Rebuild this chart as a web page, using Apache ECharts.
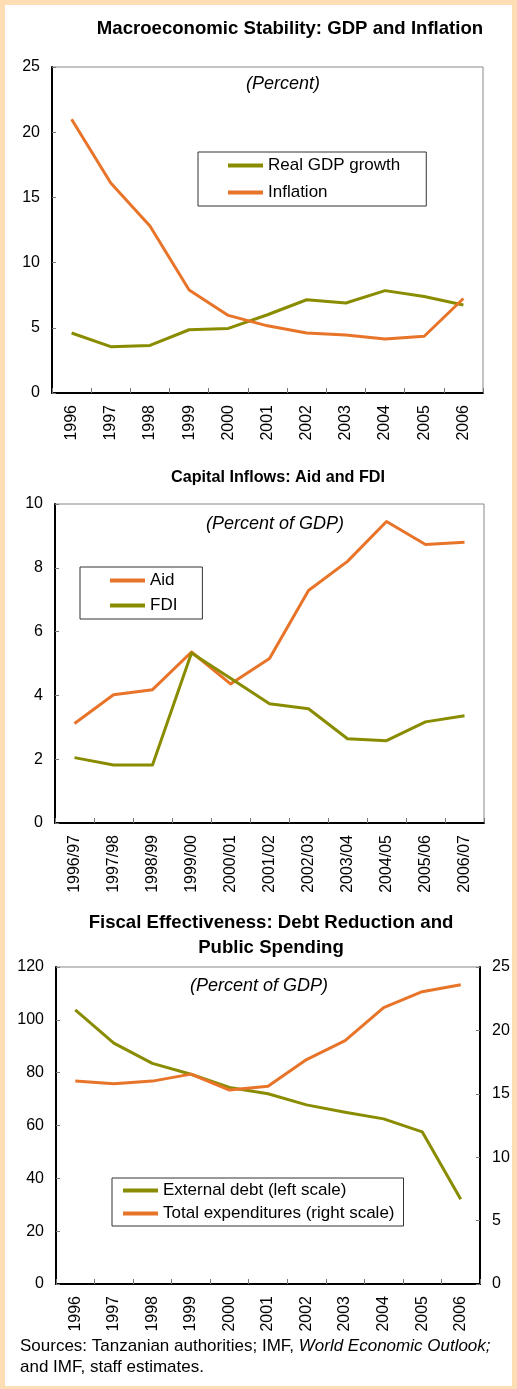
<!DOCTYPE html>
<html>
<head>
<meta charset="utf-8">
<script src="https://cdn.jsdelivr.net/npm/echarts@6/dist/echarts.min.js"></script>
<style>
html,body{margin:0;padding:0;background:#FDDEB4;}
#c{width:517px;height:1389px;}
</style>
</head>
<body>
<div id="c"></div>
<script>
// ---- Data ----
const years = ['1996','1997','1998','1999','2000','2001','2002','2003','2004','2005','2006'];
const gdpGrowth = [4.6, 3.55, 3.65, 4.85, 4.95, 6.0, 7.15, 6.9, 7.85, 7.4, 6.75];
const inflation = [21.0, 16.1, 12.8, 7.9, 5.95, 5.15, 4.6, 4.45, 4.15, 4.35, 7.25];

const fiscalYears = ['1996/97','1997/98','1998/99','1999/00','2000/01','2001/02','2002/03','2003/04','2004/05','2005/06','2006/07'];
const aid = [3.12, 4.02, 4.18, 5.36, 4.36, 5.16, 7.29, 8.2, 9.45, 8.73, 8.8];
const fdi = [2.05, 1.82, 1.82, 5.33, 4.54, 3.74, 3.58, 2.64, 2.58, 3.17, 3.36];

const externalDebt = [103.8, 91.2, 83.5, 79.4, 74.4, 72.0, 67.8, 65.0, 62.5, 57.6, 32.1];
const totalExpenditures = [16.0, 15.8, 16.0, 16.55, 15.3, 15.6, 17.7, 19.2, 21.8, 23.05, 23.6];

const ticks1 = {min: 0, max: 25, interval: 5};
const ticks2 = {min: 0, max: 10, interval: 2};
const ticks3L = {min: 0, max: 120, interval: 20};
const ticks3R = {min: 0, max: 25, interval: 5};

// ---- Styles ----
const GREEN = '#8A8C00';
const ORANGE = '#E8742A';
const FONT = '"Liberation Sans", Arial, sans-serif';

function xAxis(grid, data) {
  return {
    type: 'category', gridIndex: grid, data: data, boundaryGap: true,
    axisLine: {show: true, lineStyle: {color: '#000', width: 2}},
    axisTick: {show: true, inside: true, length: 5, interval: 0, lineStyle: {color: '#777'}},
    axisLabel: {rotate: 90, interval: 0, margin: 12, fontSize: 16, color: '#000', fontFamily: FONT},
    splitLine: {show: false}
  };
}
function yAxis(grid, t, pos) {
  return {
    type: 'value', gridIndex: grid, min: t.min, max: t.max, interval: t.interval, position: pos || 'left',
    axisLine: {show: true, lineStyle: {color: '#000', width: 2}},
    axisTick: {show: true, inside: true, length: 4, lineStyle: {color: '#777'}},
    axisLabel: {margin: 12, fontSize: 16, color: '#000', fontFamily: FONT},
    splitLine: {show: false}
  };
}
function line(name, data, color, xi, yi, z) {
  return {
    type: 'line', name: name, data: data, xAxisIndex: xi, yAxisIndex: yi,
    symbol: 'none', smooth: false, z: z || 2,
    lineStyle: {color: color, width: 3, cap: 'butt', join: 'round'},
    itemStyle: {color: color}
  };
}
function legend(names, left, top, padding, gap) {
  return {
    data: names, orient: 'vertical', left: left, top: top, padding: padding, itemGap: gap,
    itemWidth: 35, itemHeight: 4, icon: 'rect',
    borderColor: '#333', borderWidth: 1, backgroundColor: '#fff',
    textStyle: {fontSize: 17, color: '#000', fontFamily: FONT},
    selectedMode: false
  };
}
function txt(text, x, y, size, extra) {
  return {
    type: 'text', x: x, y: y, silent: true,
    style: Object.assign({text: text, fontSize: size, fontFamily: FONT, fill: '#000', align: 'center', verticalAlign: 'middle'}, extra || {})
  };
}

const chart = echarts.init(document.getElementById('c'), null, {renderer: 'canvas'});
chart.setOption({
  backgroundColor: '#FDDEB4',
  animation: false,
  textStyle: {fontFamily: FONT},
  grid: [
    {left: 52, top: 67, width: 431, height: 326, show: true, borderColor: '#888', borderWidth: 1, backgroundColor: 'transparent'},
    {left: 55, top: 504, width: 429, height: 319, show: true, borderColor: '#888', borderWidth: 1, backgroundColor: 'transparent'},
    {left: 56, top: 967, width: 424, height: 317, show: true, borderColor: '#888', borderWidth: 1, backgroundColor: 'transparent'}
  ],
  xAxis: [xAxis(0, years), xAxis(1, fiscalYears), xAxis(2, years)],
  yAxis: [yAxis(0, ticks1), yAxis(1, ticks2), yAxis(2, ticks3L), yAxis(2, ticks3R, 'right')],
  legend: [
    legend(['Real GDP growth', 'Inflation'], 198, 152, [5, 26, 5, 30], 10),
    legend(['Aid', 'FDI'], 80, 567, [5, 25, 5, 30], 8),
    legend(['External debt (left scale)', 'Total expenditures (right scale)'], 112, 1178, [4, 9, 4, 11], 6)
  ],
  series: [
    line('Real GDP growth', gdpGrowth, GREEN, 0, 0, 2),
    line('Inflation', inflation, ORANGE, 0, 0, 3),
    line('Aid', aid, ORANGE, 1, 1, 2),
    line('FDI', fdi, GREEN, 1, 1, 3),
    line('External debt (left scale)', externalDebt, GREEN, 2, 2, 2),
    line('Total expenditures (right scale)', totalExpenditures, ORANGE, 2, 3, 3)
  ],
  graphic: [
    {type: 'rect', shape: {x: 5, y: 5, width: 507, height: 1381}, style: {fill: '#fff'}, z: -10, silent: true},
    txt('Macroeconomic Stability: GDP and Inflation', 290, 29, 18.6, {fontWeight: 'bold'}),
    txt('(Percent)', 283, 84, 18, {fontStyle: 'italic'}),
    txt('Capital Inflows: Aid and FDI', 278, 478, 16.2, {fontWeight: 'bold'}),
    txt('(Percent of GDP)', 275, 524, 18, {fontStyle: 'italic'}),
    txt('Fiscal Effectiveness: Debt Reduction and', 271, 923, 18.6, {fontWeight: 'bold'}),
    txt('Public Spending', 271, 948, 18.6, {fontWeight: 'bold'}),
    txt('(Percent of GDP)', 259, 986, 18, {fontStyle: 'italic'}),
    {type: 'text', x: 20, y: 1336, silent: true,
     style: {
       text: 'Sources: Tanzanian authorities; IMF, {i|World Economic Outlook;}\nand IMF, staff estimates.',
       fontSize: 17, fontFamily: FONT, fill: '#000', lineHeight: 21, align: 'left', verticalAlign: 'top',
       rich: {i: {fontStyle: 'italic', fontSize: 17, fontFamily: FONT, fill: '#000', lineHeight: 21}}
     }}
  ]
});
</script>
</body>
</html>
